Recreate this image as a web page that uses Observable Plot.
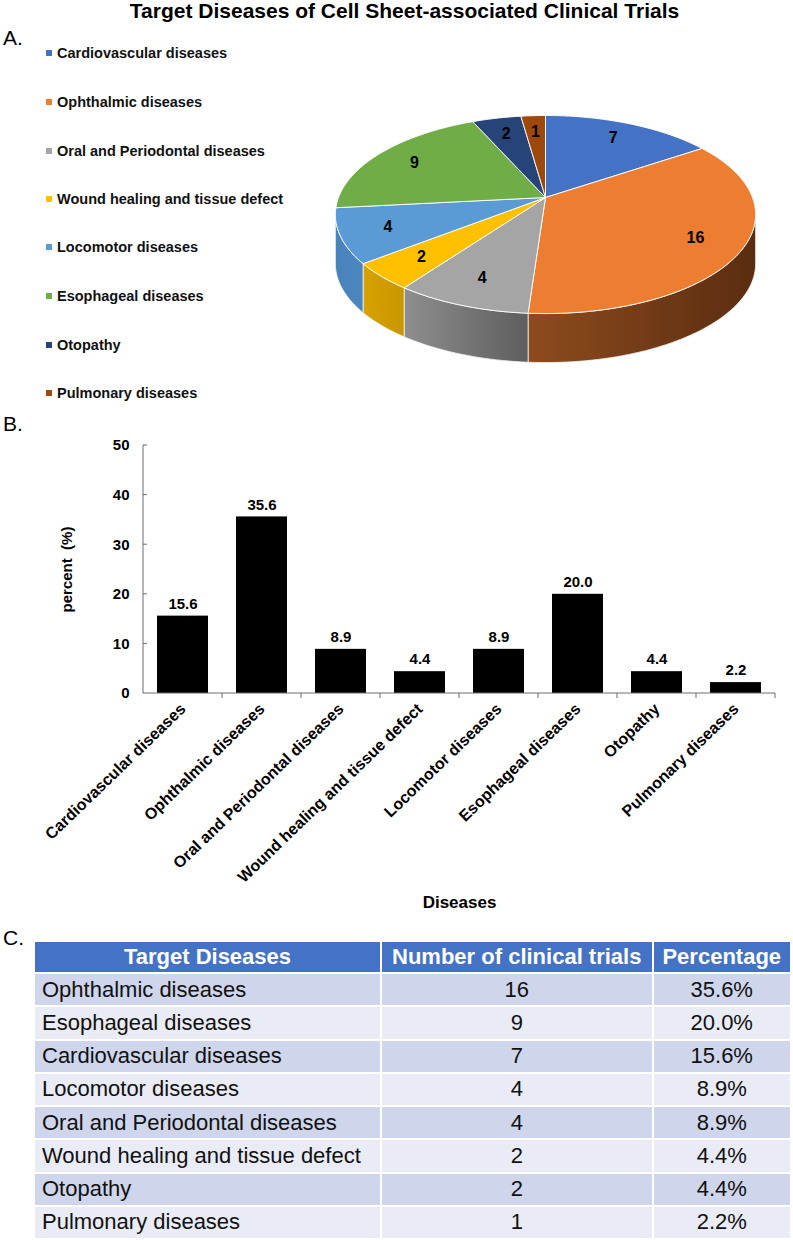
<!DOCTYPE html>
<html><head><meta charset="utf-8">
<script src="https://cdn.jsdelivr.net/npm/d3@7"></script>
<script src="https://cdn.jsdelivr.net/npm/@observablehq/plot@0.6"></script>
<style>
body{margin:0;background:#fff;font-family:"Liberation Sans",Arial,sans-serif;}
#page{position:relative;width:793px;height:1240px;overflow:hidden;background:#fff;}
.abs{position:absolute;}
.panel{font-size:21px;line-height:1;color:#000;}
.leg{position:absolute;left:46px;height:16px;line-height:16px;font-size:14.5px;font-weight:bold;color:#111;display:flex;align-items:center;}
.leg i{display:inline-block;width:6px;height:6px;margin-right:5px;}
table.t{position:absolute;left:33px;top:940px;width:757px;border-collapse:collapse;table-layout:fixed;font-size:22px;color:#111;}
table.t td, table.t th{border:2px solid #fff;padding:0 7px;white-space:nowrap;overflow:hidden;}
table.t th{background:#4472C4;color:#fff;font-weight:bold;height:30px;text-align:center;}
table.t td{height:31.25px;}
table.t tr.odd td{background:#CFD5EA;}
table.t tr.even td{background:#E9EBF5;}
</style></head><body><div id="page"></div>
<script>
// ---------- data ----------
const diseases = ["Cardiovascular diseases","Ophthalmic diseases","Oral and Periodontal diseases","Wound healing and tissue defect","Locomotor diseases","Esophageal diseases","Otopathy","Pulmonary diseases"];
const counts = [7,16,4,2,4,9,2,1];
const percents = [15.6,35.6,8.9,4.4,8.9,20.0,4.4,2.2];
const colors = ["#4472C4","#ED7D31","#A5A5A5","#FFC000","#5B9BD5","#70AD47","#264478","#9E480E"];
const sideColors = [["#3A62A8","#2E4F8A"],["#8E4B1E","#5A2D10"],["#8E8E8E","#5E5E5E"],["#D6A300","#C89600"],["#4A82BA","#4C87C0"],["#5E9239","#4E7A30"],["#1F3964","#19304F"],["#7E3A0B","#5E2B08"]];
const yTicks = [0,10,20,30,40,50];
const tableHeader = ["Target Diseases","Number of clinical trials","Percentage"];
const tableDiseases = ["Ophthalmic diseases","Esophageal diseases","Cardiovascular diseases","Locomotor diseases","Oral and Periodontal diseases","Wound healing and tissue defect","Otopathy","Pulmonary diseases"];
const tableCounts = [16,9,7,4,4,2,2,1];
const tablePercents = ["35.6%","20.0%","15.6%","8.9%","8.9%","4.4%","4.4%","2.2%"];

const page = document.getElementById("page");
function addDiv(html, css, cls){ const d=document.createElement("div"); d.className="abs "+(cls||""); d.innerHTML=html; Object.assign(d.style, css); page.appendChild(d); return d; }

// ---------- titles ----------
addDiv("Target Diseases of Cell Sheet-associated Clinical Trials", {left:"8px",top:"0px",width:"793px",textAlign:"center",fontSize:"21px",fontWeight:"bold",lineHeight:"1"});
addDiv("A.", {left:"3px",top:"27px"}, "panel");
addDiv("B.", {left:"3px",top:"413px"}, "panel");
addDiv("C.", {left:"3px",top:"927px"}, "panel");

// ---------- legend ----------
const legendCenters = [53,102,151,199,247,296,345,393];
diseases.forEach((name,i)=>{
  const d = document.createElement("div"); d.className="leg";
  d.style.top = (legendCenters[i]-8)+"px";
  d.innerHTML = `<i style="background:${colors[i]}"></i>${name}`;
  page.appendChild(d);
});

// ---------- 3D pie ----------
const total = d3.sum(counts);
const K = 0.172;       // perspective strength
const DEPTH = 0.51;    // pie thickness in y-units
function proj(phiDeg, r){ const p=phiDeg*Math.PI/180; const u=r*Math.sin(p), v=-r*Math.cos(p); const w=1-K*v; return [u/w, v/w]; }
let acc = 0;
const slices = diseases.map((name,i)=>{ const a0=acc/total*360; acc+=counts[i]; const a1=acc/total*360; return {name,count:counts[i],color:colors[i],a0,a1,i}; });
const phiLo = Math.acos(-K)*180/Math.PI, phiHi = 360-phiLo;
function arc(a0,a1,r){ const n=Math.max(2,Math.ceil((a1-a0)/1.5)); const out=[]; for(let j=0;j<=n;j++) out.push(proj(a0+(a1-a0)*j/n, r)); return out; }
const sideMarks = [], topMarks = [];
slices.forEach(s=>{
  const b0=Math.max(s.a0,phiLo), b1=Math.min(s.a1,phiHi);
  if (b1>b0){
    const top = arc(b0,b1,1);
    const bot = top.map(([x,y])=>[x,y+DEPTH]).reverse();
    const pts = top.concat(bot); pts.push(top[0]);
    sideMarks.push(Plot.line(pts.map(([x,y])=>({x,y})), {x:"x",y:"y",fill:`url(#side${s.i})`,stroke:"#f2f2f2",strokeWidth:0.8}));
  }
  const pts = [[0,0]].concat(arc(s.a0,s.a1,1)); pts.push([0,0]);
  topMarks.push(Plot.line(pts.map(([x,y])=>({x,y})), {x:"x",y:"y",fill:s.color,stroke:"#ffffff",strokeWidth:0.9}));
});
const pieLabels = slices.map(s=>{ const [x,y]=proj((s.a0+s.a1)/2,0.78); return {x,y,text:String(s.count)}; });
const pie = Plot.plot({
  width:478, height:280, margin:0,
  x:{domain:[-1,1], range:[23,437], axis:null},
  y:{domain:[-1,1], range:[0.9,193.1], axis:null},
  style:{background:"transparent",overflow:"visible"},
  marks:[...sideMarks, ...topMarks,
    Plot.text(pieLabels,{x:"x",y:"y",text:"text",fontSize:16,fontWeight:"bold",fill:"#000",fontFamily:"Liberation Sans, Arial, sans-serif"})]
});
const defs = d3.select(pie).insert("defs",":first-child");
slices.forEach(s=>{
  const g = defs.append("linearGradient").attr("id","side"+s.i).attr("x1","0").attr("x2","1").attr("y1","0").attr("y2","0");
  g.append("stop").attr("offset","0").attr("stop-color",sideColors[s.i][0]);
  g.append("stop").attr("offset","1").attr("stop-color",sideColors[s.i][1]);
});
pie.style.position="absolute"; pie.style.left="315px"; pie.style.top="100px";
page.appendChild(pie);

// ---------- bar chart ----------
const barData = diseases.map((name,i)=>({name, pct:percents[i]}));
const bar = Plot.plot({
  width:793, height:485,
  marginLeft:143, marginRight:18, marginTop:15, marginBottom:222,
  style:{fontFamily:"Liberation Sans, Arial, sans-serif",fontSize:"15px",fontWeight:"bold",color:"#000",background:"transparent",overflow:"visible"},
  x:{domain:diseases, paddingInner:0.36, paddingOuter:0.18, tickRotate:-44, tickSize:0, tickPadding:13, label:"Diseases", labelArrow:false, labelAnchor:"center", labelOffset:214},
  y:{domain:[0,50], ticks:yTicks, tickSize:0, tickPadding:14, label:"percent  (%)", labelArrow:false, labelAnchor:"center", labelOffset:82},
  marks:[
    Plot.barY(barData,{x:"name",y:"pct",fill:"#000"}),
    Plot.text(barData,{x:"name",y:"pct",text:d=>d.pct.toFixed(1),dy:-12,fontSize:15,fontWeight:"bold",fill:"#000"})
  ]
});
// axis lines & small ticks from the plot's own scales
(function(){
  const xs = bar.scale("x"), ys = bar.scale("y");
  const bx = d3.scaleBand(xs.domain, xs.range).paddingInner(xs.paddingInner ?? 0.36).paddingOuter(xs.paddingOuter ?? 0.18).align(xs.align ?? 0.5);
  const ly = d3.scaleLinear(ys.domain, ys.range);
  const g = d3.select(bar).append("g").attr("stroke","#6d6d6d").attr("stroke-width",1).attr("fill","none");
  const x0 = xs.range[0], x1 = xs.range[1], y0 = ly(0);
  g.append("line").attr("x1",x0).attr("x2",x0).attr("y1",ly(50)).attr("y2",y0);
  g.append("line").attr("x1",x0).attr("x2",x1).attr("y1",y0).attr("y2",y0);
  yTicks.forEach(t=>{ if(t>0) g.append("line").attr("x1",x0).attr("x2",x0+4).attr("y1",ly(t)).attr("y2",ly(t)); });
  xs.domain.forEach(d=>{ const xb = bx(d)+bx.bandwidth()/2+bx.step()/2; g.append("line").attr("x1",xb).attr("x2",xb).attr("y1",y0).attr("y2",y0+5); });
})();
d3.select(bar).selectAll("text").attr("font-weight","bold");
d3.select(bar).selectAll('[aria-label="x-axis tick label"] text, [aria-label="x-axis tick label"]').attr("font-size",16);
d3.select(bar).selectAll('[aria-label="x-axis label"]').attr("font-size",17);
d3.select(bar).selectAll('[aria-label="y-axis label"]').attr("font-size",15);
bar.style.position="absolute"; bar.style.left="0px"; bar.style.top="430px";
page.appendChild(bar);

// ---------- table ----------
const table = document.createElement("table"); table.className="t";
const cg = document.createElement("colgroup");
[347,271.5,138.5].forEach(w=>{ const c=document.createElement("col"); c.style.width=w+"px"; cg.appendChild(c); });
table.appendChild(cg);
const thead = document.createElement("tr");
tableHeader.forEach(h=>{ const th=document.createElement("th"); th.textContent=h; thead.appendChild(th); });
table.appendChild(thead);
tableDiseases.forEach((name,i)=>{
  const tr=document.createElement("tr"); tr.className = i%2===0 ? "odd" : "even";
  [[name,"left"],[String(tableCounts[i]),"center"],[tablePercents[i],"center"]].forEach(([v,al])=>{ const td=document.createElement("td"); td.textContent=v; td.style.textAlign=al; tr.appendChild(td); });
  table.appendChild(tr);
});
page.appendChild(table);
</script></body></html>
